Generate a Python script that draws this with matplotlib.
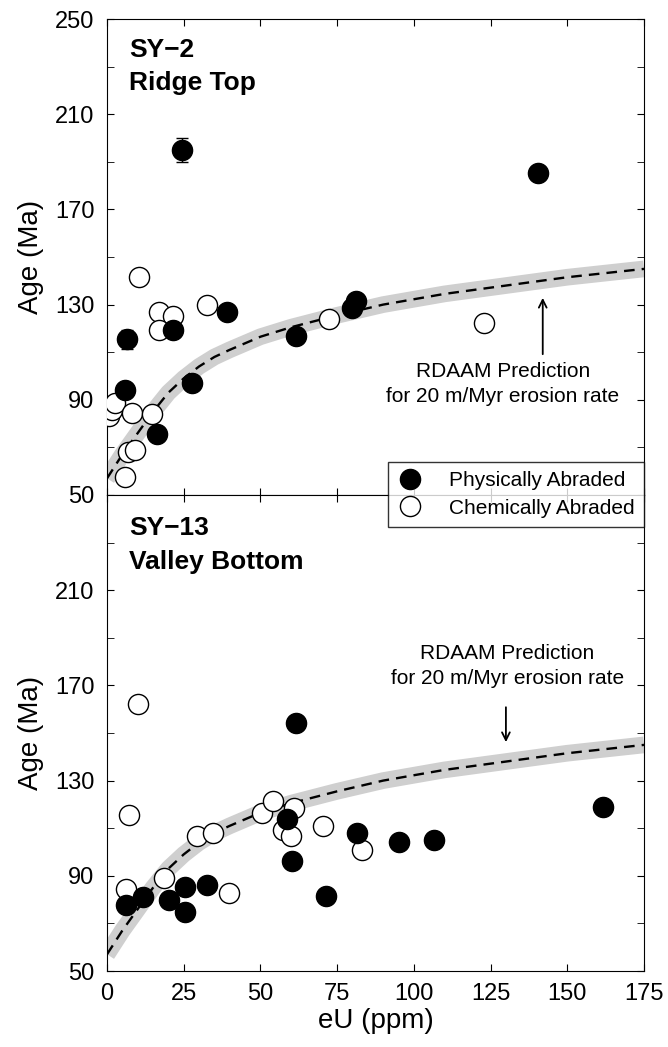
import matplotlib
matplotlib.use("Agg")
import matplotlib.pyplot as plt
from matplotlib.lines import Line2D

plt.rcParams['font.family'] = ['Liberation Sans', 'DejaVu Sans']

# RDAAM prediction curve
curve_x = [0, 2.5, 5, 7.5, 10, 12.5, 15, 20, 25, 30, 35, 40, 50, 60, 75, 90, 110, 130, 150, 175]
curve_y = [57, 62, 67, 71.5, 76, 80.5, 85, 93, 99, 104, 108, 111, 116.5, 120.5, 125.5, 130, 134.5, 138, 141.5, 145]

# SY-2 ridge top
sy2_phys_eu = [24.4, 140.3, 6.4, 5.9, 16.2, 21.6, 39.0, 27.6, 61.5, 79.7, 81.3]
sy2_phys_age = [195, 185.2, 115.4, 94.1, 75.5, 119.3, 127, 97, 116.8, 128.4, 131.5]
sy2_phys_err = [5, 0, 4, 0, 0, 0, 0, 0, 0, 0, 0]
sy2_chem_eu = [10.5, 17.0, 21.6, 17.0, 32.5, 72.3, 122.9, 0.5, 1.5, 2.6, 8.0, 14.6, 7.0, 9.1, 5.9]
sy2_chem_age = [141.7, 127, 125, 119.3, 130, 124, 122.1, 83, 85.7, 88.5, 84.6, 84, 68.2, 69, 57.7]

# SY-13 valley bottom
sy13_phys_eu = [61.5, 6.2, 11.8, 20.2, 25.4, 25.4, 32.5, 58.5, 60.2, 71.4, 81.4, 95.1, 106.6, 161.7]
sy13_phys_age = [154.3, 77.7, 81.2, 79.8, 85.4, 74.6, 86.1, 114, 96.4, 81.6, 107.8, 104.3, 105, 118.8]
sy13_chem_eu = [10.2, 7.3, 6.2, 18.6, 29.2, 34.4, 39.9, 50.4, 54.2, 60.9, 57.2, 60.0, 70.5, 83.0]
sy13_chem_age = [162.2, 115.5, 84.3, 88.9, 106.6, 107.8, 82.9, 116.3, 121.6, 118.4, 109.2, 106.7, 111, 100.8]

fig = plt.figure(figsize=(6.68, 10.47), dpi=100)
L, R = 107 / 668, 644 / 668
top, mid, bot = 1 - 19 / 1047, 1 - 495 / 1047, 1 - 971 / 1047
ax1 = fig.add_axes([L, mid, R - L, top - mid])
ax2 = fig.add_axes([L, bot, R - L, mid - bot], sharex=ax1)

ms = 14.5


def draw_panel(ax, peu, page, ceu, cage, perr=None):
    ax.plot(curve_x, curve_y, color='#cfcfcf', lw=12, solid_capstyle='butt',
            solid_joinstyle='round', zorder=1)
    ax.plot(curve_x, curve_y, color='black', lw=1.7, dashes=(4.5, 3), zorder=2)
    if perr is not None:
        ax.errorbar(peu, page, yerr=perr, fmt='none', ecolor='black', elinewidth=1,
                    capsize=4, zorder=3)
    ax.plot(ceu, cage, 'o', ms=ms, mfc='white', mec='black', mew=1, zorder=3)
    ax.plot(peu, page, 'o', ms=ms, mfc='black', mec='black', mew=1, zorder=4)
    ax.set_xlim(0, 175)
    ax.set_ylim(50, 250)
    ax.set_xticks([0, 25, 50, 75, 100, 125, 150, 175])
    ax.set_yticks(range(50, 251, 20), minor=True)
    ax.tick_params(which='both', direction='in', top=True, right=True, length=5,
                   labelsize=17, pad=9)
    ax.set_ylabel('Age (Ma)', fontsize=20, labelpad=8)


draw_panel(ax1, sy2_phys_eu, sy2_phys_age, sy2_chem_eu, sy2_chem_age, sy2_phys_err)
draw_panel(ax2, sy13_phys_eu, sy13_phys_age, sy13_chem_eu, sy13_chem_age)

ax1.set_yticks([50, 90, 130, 170, 210, 250])
ax2.set_yticks([50, 90, 130, 170, 210])
ax1.tick_params(labelbottom=False)
ax2.set_xlabel('eU (ppm)', fontsize=20, labelpad=2)

ax1.text(7.3, 237, 'SY\u22122', fontsize=19, fontweight='bold', va='center')
ax1.text(7.3, 223, 'Ridge Top', fontsize=19, fontweight='bold', va='center')
ax2.text(7.3, 236, 'SY\u221213', fontsize=19, fontweight='bold', va='center')
ax2.text(7.3, 222, 'Valley Bottom', fontsize=19, fontweight='bold', va='center')

ax1.annotate('', xy=(142, 134), xytext=(142, 108),
             arrowprops=dict(arrowstyle='->', color='black', lw=1.3, mutation_scale=14))
ax1.text(129, 101.8, 'RDAAM Prediction', fontsize=15, ha='center', va='center')
ax1.text(129, 91.3, 'for 20 m/Myr erosion rate', fontsize=15, ha='center', va='center')

ax2.annotate('', xy=(130, 145), xytext=(130, 162),
             arrowprops=dict(arrowstyle='->', color='black', lw=1.3, mutation_scale=14))
ax2.text(130.5, 183.6, 'RDAAM Prediction', fontsize=15, ha='center', va='center')
ax2.text(130.5, 173.1, 'for 20 m/Myr erosion rate', fontsize=15, ha='center', va='center')

handles = [Line2D([], [], ls='none', marker='o', ms=ms, mfc='black', mec='black'),
           Line2D([], [], ls='none', marker='o', ms=ms, mfc='white', mec='black')]
leg = fig.legend(handles, ['Physically Abraded', 'Chemically Abraded'],
                 loc='upper right', bbox_to_anchor=(R, 1 - 462 / 1047),
                 fontsize=15, frameon=True, fancybox=False, edgecolor='black',
                 borderaxespad=0, borderpad=0.45, handlelength=1.3, handletextpad=1.2,
                 labelspacing=0.4)
leg.get_frame().set_linewidth(1)
leg.set_zorder(10)

fig.savefig('out.png', dpi=100)
